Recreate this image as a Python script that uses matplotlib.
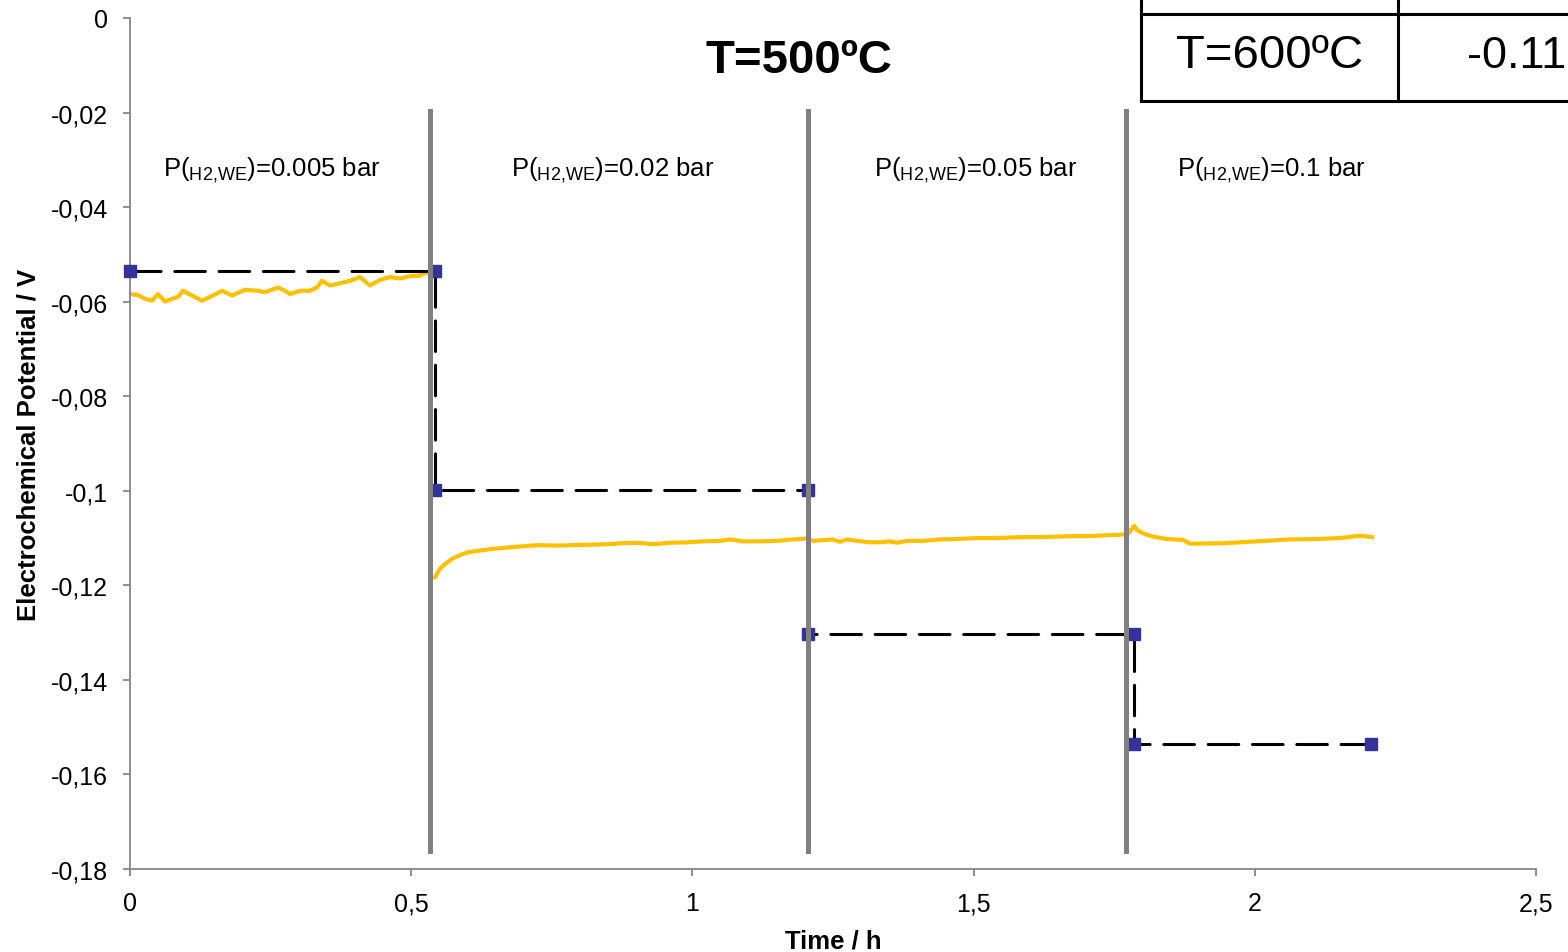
import numpy as np
import matplotlib
matplotlib.use("Agg")
import matplotlib.pyplot as plt
from matplotlib.lines import Line2D
from matplotlib.ticker import FuncFormatter, MultipleLocator

plt.rcParams['font.family'] = ['Liberation Sans', 'DejaVu Sans']
plt.rcParams['mathtext.fontset'] = 'custom'
plt.rcParams['mathtext.rm'] = 'Liberation Sans'
plt.rcParams['axes.unicode_minus'] = False

t1 = [0.0, 0.0142, 0.0267, 0.0391, 0.0498, 0.0622, 0.0747, 0.0853, 0.0942, 0.1102,
      0.128, 0.1458, 0.1636, 0.1814, 0.2045, 0.2276, 0.24, 0.2632, 0.2756, 0.2845,
      0.3023, 0.3201, 0.3325, 0.3414, 0.3556, 0.3734, 0.3912, 0.409, 0.4267, 0.4445,
      0.4623, 0.4801, 0.4979, 0.5156, 0.5245, 0.5299, 0.537]
v1 = [-0.0584, -0.0586, -0.0594, -0.0598, -0.0584, -0.0600, -0.0594, -0.0590, -0.0577, -0.0587,
      -0.0598, -0.0588, -0.0577, -0.0587, -0.0575, -0.0577, -0.0580, -0.0570, -0.0577, -0.0584,
      -0.0577, -0.0577, -0.0570, -0.0556, -0.0566, -0.0561, -0.0556, -0.0548, -0.0566, -0.0554,
      -0.0548, -0.0551, -0.0546, -0.0545, -0.0538, -0.0539, -0.0531]

t2 = [0.5423, 0.5512, 0.5601, 0.5725, 0.5868, 0.601, 0.6188, 0.6437, 0.6721, 0.7023,
      0.7255, 0.761, 0.7913, 0.8215, 0.8499, 0.8748, 0.9015, 0.93, 0.9602, 0.9904,
      1.0189, 1.0491, 1.0669, 1.09, 1.1202, 1.1504, 1.1789, 1.2038, 1.2144, 1.25,
      1.2624, 1.2749, 1.2927, 1.3158, 1.3336, 1.3514, 1.3638, 1.3816, 1.41, 1.4403,
      1.4705, 1.506, 1.5416, 1.5878, 1.6181, 1.6483, 1.6767, 1.707, 1.7372, 1.7603,
      1.7745, 1.7816, 1.7852, 1.7905, 1.8012, 1.819, 1.8439, 1.8723, 1.8848, 1.9435,
      2.0039, 2.0626, 2.1106, 2.1515, 2.1871, 2.2084]
v2 = [-0.1183, -0.1165, -0.1155, -0.1144, -0.1136, -0.1130, -0.1127, -0.1123, -0.1120, -0.1117,
      -0.1115, -0.1116, -0.1115, -0.1114, -0.1113, -0.1111, -0.1110, -0.1113, -0.1110, -0.1109,
      -0.1107, -0.1106, -0.1103, -0.1107, -0.1107, -0.1106, -0.1103, -0.1101, -0.1106, -0.1103,
      -0.1108, -0.1103, -0.1106, -0.1109, -0.1109, -0.1107, -0.1110, -0.1106, -0.1106, -0.1103,
      -0.1102, -0.1100, -0.1100, -0.1098, -0.1098, -0.1097, -0.1096, -0.1096, -0.1094, -0.1093,
      -0.1091, -0.1081, -0.1074, -0.1083, -0.1090, -0.1097, -0.1102, -0.1104, -0.1112, -0.1111,
      -0.1107, -0.1103, -0.1102, -0.1100, -0.1095, -0.1098]

# theoretical (Nernst) steps, dashed with markers
t_theo = [0.0, 0.542, 0.542, 1.205, 1.205, 1.785, 1.785, 2.207]
v_theo = [-0.0535, -0.0535, -0.0999, -0.0999, -0.1303, -0.1303, -0.1536, -0.1536]

# pressure changes
t_change = [0.5334, 1.2055, 1.771]
pressures = ['0.005', '0.02', '0.05', '0.1']
label_x = [0.2525, 0.859, 1.504, 2.029]

fig = plt.figure(figsize=(15.68, 9.53), dpi=100)
ax = fig.add_axes([0.0829, 0.0871, 0.8967, 0.893])

ax.plot(t1 + [np.nan] + t2, v1 + [np.nan] + v2, color='#FFC000', lw=3, zorder=2)
ax.plot(t_theo, v_theo, color='black', lw=2.2, dashes=(10, 4.5),
        dash_capstyle='round', zorder=3)
ax.plot(t_theo, v_theo, ls='none', marker='s', ms=9, mfc='#333399', mec='#333399',
        zorder=3, clip_on=False)

for tc in t_change:
    ax.plot([tc, tc], [-0.0197, -0.1762], color='#808080', lw=3.6, zorder=4)

for x, p in zip(label_x, pressures):
    ax.text(x, -0.032, r'P($\mathregular{_{H2{,}WE}}$)=' + p + ' bar',
            ha='center', va='center', fontsize=18.5)

ax.text(1.19, -0.0088, 'T=500ºC', ha='center', va='center',
        fontsize=34, fontweight='bold')

ax.set_xlim(0, 2.5)
ax.set_ylim(-0.18, 0)
ax.xaxis.set_major_locator(MultipleLocator(0.5))
ax.yaxis.set_major_locator(MultipleLocator(0.02))
fmt = FuncFormatter(lambda v, pos: '0' if abs(v) < 1e-9 else f'{v:.2f}'.rstrip('0').rstrip('.').replace('.', ','))
ax.xaxis.set_major_formatter(fmt)
ax.yaxis.set_major_formatter(fmt)

for s in ['top', 'right']:
    ax.spines[s].set_visible(False)
for s in ['left', 'bottom']:
    ax.spines[s].set_color('#868686')
    ax.spines[s].set_linewidth(1.3)
ax.tick_params(direction='out', length=5, width=1.3, color='#868686',
               labelsize=18, pad=11)

ax.set_xlabel('Time / h', fontsize=18.5, fontweight='bold')
ax.set_ylabel('Electrochemical Potential / V', fontsize=18.5, fontweight='bold')
ax.xaxis.set_label_coords(0.5, -0.07)
ax.yaxis.set_label_coords(-0.064, 0.5)

# table fragment in the top right corner
W, H = 1568, 953
def px(x, y):
    return x / W, 1 - y / H
for (x0, y0), (x1, y1) in [((1141, 0), (1141, 102)), ((1141, 102), (1568, 102)),
                           ((1141, 15), (1568, 15)), ((1398, 0), (1398, 102))]:
    a, b = px(x0, y0)
    c, d = px(x1, y1)
    fig.add_artist(Line2D([a, c], [b, d], color='black', lw=2.2))
fig.text(*px(1270, 56), 'T=600ºC', ha='center', va='center', fontsize=34)
fig.text(*px(1467, 56), '-0.11', ha='left', va='center', fontsize=32.5)

fig.savefig('out.png', dpi=100)
